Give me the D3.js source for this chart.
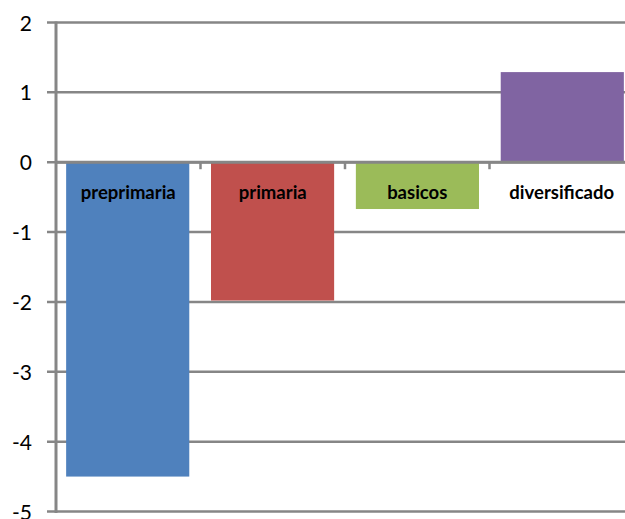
<!DOCTYPE html>
<html>
<head>
<meta charset="utf-8">
<script src="https://cdn.jsdelivr.net/npm/d3@7"></script>
<style>
  html, body { margin: 0; padding: 0; background: #fff; }
  svg { display: block; }
</style>
</head>
<body>
<svg id="chart" width="625" height="519"></svg>
<script>
// Series data
const categories = ["preprimaria", "primaria", "basicos", "diversificado"];
const values = [-4.5, -1.98, -0.67, 1.29];
const colors = ["#4F81BD", "#C0504D", "#9BBB59", "#8064A2"];
const yTicks = [2, 1, 0, -1, -2, -3, -4, -5];

const svg = d3.select("#chart");
const plot = { left: 56, right: 634, top: 22.5, bottom: 511.5 };
const gridColor = "#868686";
const font = "Lato, 'Open Sans', 'DejaVu Sans', sans-serif";

const x = d3.scaleBand().domain(categories).range([plot.left, plot.right]).paddingInner(0.15).paddingOuter(0.07);
const y = d3.scaleLinear().domain([-5, 2]).range([plot.bottom, plot.top]);

// Horizontal gridlines
svg.append("g").selectAll("line").data(yTicks).join("line")
  .attr("x1", plot.left - 9).attr("x2", 625)
  .attr("y1", d => y(d)).attr("y2", d => y(d))
  .attr("stroke", gridColor).attr("stroke-width", 2.5);

// Bars
svg.append("g").selectAll("rect").data(categories).join("rect")
  .attr("x", d => x(d))
  .attr("width", x.bandwidth())
  .attr("y", (d, i) => y(Math.max(0, values[i])))
  .attr("height", (d, i) => Math.abs(y(values[i]) - y(0)))
  .attr("fill", (d, i) => colors[i]);

// Zero line (category axis) with boundary ticks
const boundaries = d3.range(categories.length + 1).map(i => plot.left + i * (plot.right - plot.left) / categories.length);
svg.append("line")
  .attr("x1", plot.left).attr("x2", 625)
  .attr("y1", y(0)).attr("y2", y(0))
  .attr("stroke", gridColor).attr("stroke-width", 3);
svg.append("g").selectAll("line").data(boundaries.slice(1)).join("line")
  .attr("x1", d => d).attr("x2", d => d)
  .attr("y1", y(0)).attr("y2", y(0) + 7)
  .attr("stroke", gridColor).attr("stroke-width", 2.5);

// Value axis (plain hyphen for negatives)
const yAxis = d3.axisLeft(y).tickValues(yTicks).tickSize(0).tickPadding(0).tickFormat(d => String(d));
const gy = svg.append("g").attr("transform", `translate(${plot.left},0)`).call(yAxis);
gy.select(".domain").remove();
gy.selectAll("text")
  .attr("x", -24)
  .attr("dy", "0.36em")
  .attr("font-family", font)
  .attr("font-size", 21)
  .attr("fill", "#000");
svg.append("line")
  .attr("x1", plot.left).attr("x2", plot.left)
  .attr("y1", plot.top - 1).attr("y2", plot.bottom + 1.5)
  .attr("stroke", gridColor).attr("stroke-width", 3);

// Category labels, placed just below the zero line
svg.append("g").selectAll("text").data(categories).join("text")
  .attr("x", (d, i) => (boundaries[i] + boundaries[i + 1]) / 2)
  .attr("y", y(0) + 36.5)
  .attr("text-anchor", "middle")
  .attr("font-family", font)
  .attr("font-weight", "bold")
  .attr("font-size", 18.5)
  .attr("fill", "#000")
  .text(d => d);
</script>
</body>
</html>
